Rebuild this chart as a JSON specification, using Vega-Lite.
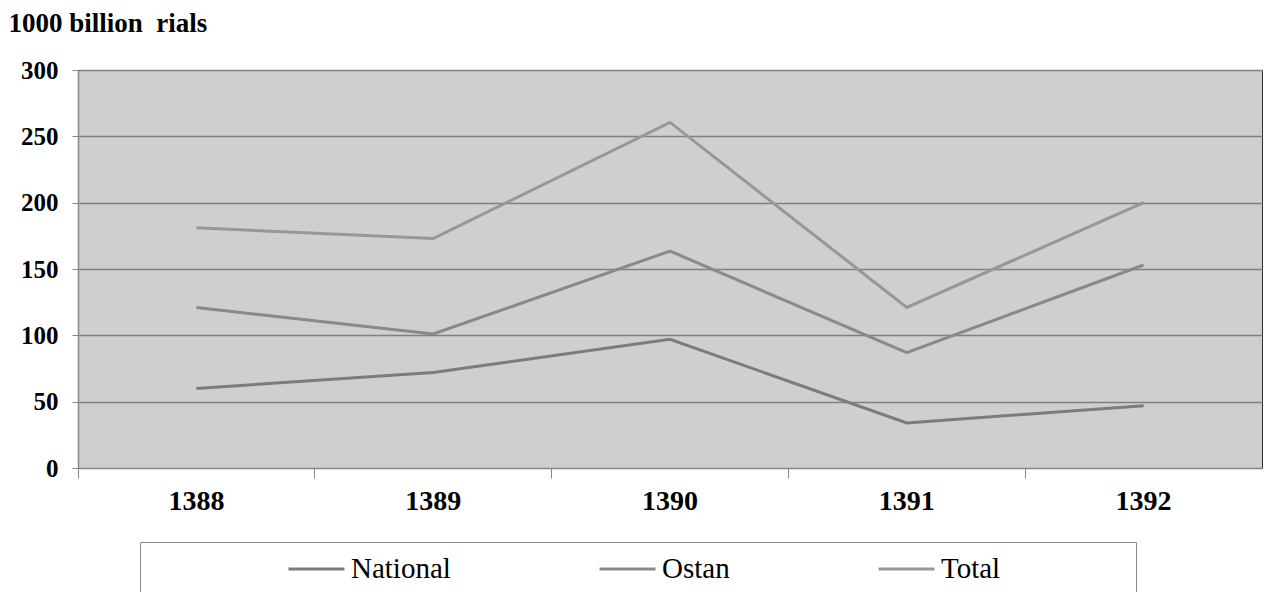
{
  "$schema": "https://vega.github.io/schema/vega-lite/v6.json",
  "autosize": {"type": "none"},
  "padding": {"left": 78, "top": 70, "right": 4, "bottom": 124},
  "width": 1184,
  "height": 398,
  "background": "white",
  "config": {
    "view": {"fill": "#cfcfcf", "stroke": "#333", "strokeWidth": 1},
    "font": "Liberation Serif"
  },
  "data": {
    "values": [
      {"year": "1388", "series": "National", "value": 60},
      {"year": "1389", "series": "National", "value": 72},
      {"year": "1390", "series": "National", "value": 97},
      {"year": "1391", "series": "National", "value": 34},
      {"year": "1392", "series": "National", "value": 47},
      {"year": "1388", "series": "Ostan", "value": 121},
      {"year": "1389", "series": "Ostan", "value": 101},
      {"year": "1390", "series": "Ostan", "value": 163.5},
      {"year": "1391", "series": "Ostan", "value": 87},
      {"year": "1392", "series": "Ostan", "value": 153},
      {"year": "1388", "series": "Total", "value": 181},
      {"year": "1389", "series": "Total", "value": 173},
      {"year": "1390", "series": "Total", "value": 260.5},
      {"year": "1391", "series": "Total", "value": 121},
      {"year": "1392", "series": "Total", "value": 200}
    ]
  },
  "resolve": {"axis": {"x": "independent"}},
  "layer": [
    {
      "mark": {"type": "line", "strokeWidth": 3},
      "encoding": {
        "x": {
          "field": "year", "type": "nominal", "bandPosition": 0.5,
          "scale": {"type": "band", "paddingInner": 0, "paddingOuter": 0},
          "axis": {
            "orient": "bottom",
            "title": null, "labelAngle": 0, "ticks": false, "domain": true,
            "domainColor": "#888", "domainWidth": 1,
            "labelFont": "Liberation Serif", "labelFontWeight": "bold", "labelFontSize": 28,
            "labelColor": "#000", "labelPadding": 19
          }
        },
        "y": {
          "field": "value", "type": "quantitative",
          "scale": {"domain": [0, 300]},
          "axis": {
            "values": [0, 50, 100, 150, 200, 250, 300],
            "grid": true, "gridColor": "#808080", "gridWidth": 1.5,
            "tickColor": "#888", "tickSize": 6, "tickWidth": 1,
            "domainColor": "#888", "domainWidth": 1.5,
            "labelFont": "Liberation Serif", "labelFontWeight": "bold", "labelFontSize": 25,
            "labelColor": "#000", "labelPadding": 14,
            "title": "1000 billion \u00a0rials",
            "titleAngle": 0, "titleAlign": "left", "titleBaseline": "alphabetic",
            "titleX": -70, "titleY": -39,
            "titleFont": "Liberation Serif", "titleFontWeight": "bold", "titleFontSize": 27,
            "titleColor": "#000"
          }
        },
        "color": {
          "field": "series", "type": "nominal",
          "scale": {"domain": ["National", "Ostan", "Total"], "range": ["#7c7c7c", "#898989", "#979797"]},
          "legend": {
            "title": null,
            "orient": "none", "legendX": 62, "legendY": 472,
            "direction": "horizontal", "columns": 3, "columnPadding": 12,
            "symbolType": "M-1,0M0.414,0H1", "symbolSize": 36481, "symbolStrokeWidth": 3,
            "clipHeight": 30,
            "labelFont": "Liberation Serif", "labelFontSize": 29, "labelColor": "#000",
            "labelOffset": 5, "labelLimit": 400,
            "labelExpr": "datum.label == 'Total' ? datum.label + '\u00a0\u00a0\u00a0\u00a0\u00a0\u00a0\u00a0\u00a0\u00a0\u00a0\u00a0\u00a0\u00a0\u00a0\u00a0\u00a0\u00a0\u200b' : datum.label",
            "strokeColor": "#888", "padding": 12
          }
        }
      }
    },
    {
      "mark": {"type": "line", "opacity": 0},
      "encoding": {
        "x": {
          "field": "year", "type": "nominal",
          "scale": {"type": "band", "paddingInner": 0, "paddingOuter": 0},
          "axis": {
            "orient": "bottom",
            "title": null, "labels": false, "ticks": true, "domain": false,
            "bandPosition": 0, "tickSize": 10, "tickColor": "#888", "tickWidth": 1
          }
        },
        "y": {"field": "value", "type": "quantitative"}
      }
    }
  ]
}
